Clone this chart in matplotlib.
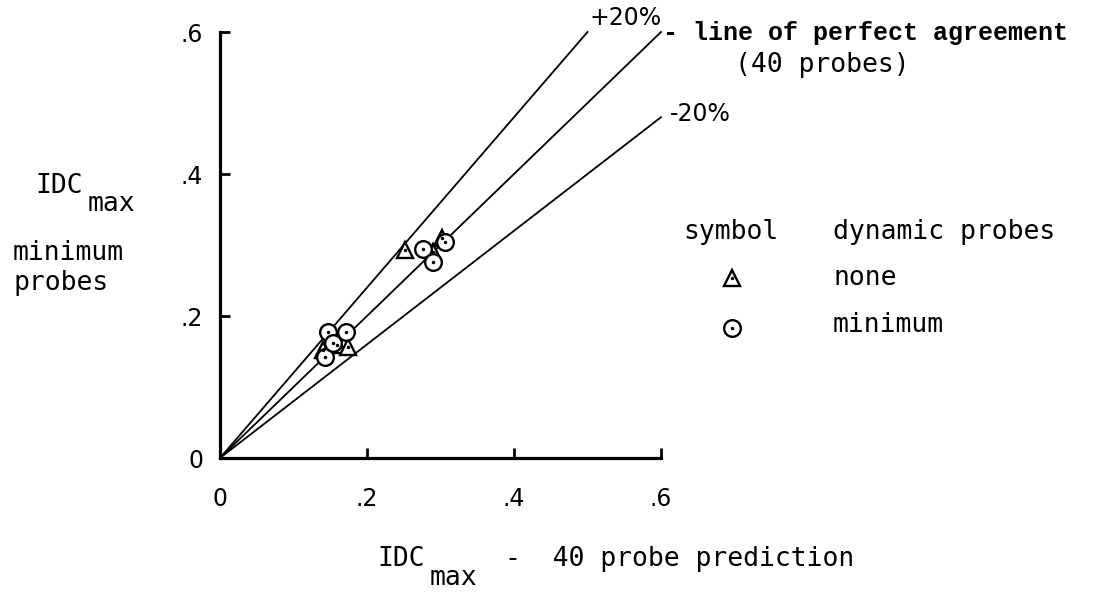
"""
IDC_max from minimum probes vs. 40 probe prediction, with +/-20% bands.
"""
import matplotlib
matplotlib.use('Agg')
import matplotlib.pyplot as plt

# reference lines through the origin
band_labels = ['+20%', 'line of perfect agreement', '-20%']
band_slopes = [1.2, 1.0, 0.8]
band_x_end = [0.5, 0.6, 0.6]

# dynamic probes: none (triangles)
none_x = [0.140, 0.159, 0.174, 0.252, 0.290, 0.302]
none_y = [0.152, 0.159, 0.156, 0.293, 0.290, 0.310]

# dynamic probes: minimum (circles)
min_x = [0.143, 0.147, 0.154, 0.172, 0.276, 0.290, 0.306]
min_y = [0.142, 0.177, 0.162, 0.177, 0.294, 0.276, 0.304]

ticks = [0, 0.2, 0.4, 0.6]
tick_labels = ['0', '.2', '.4', '.6']

W, H = 1103, 592
MONO = 'DejaVu Sans Mono'
COURIER = 'Liberation Mono'
FS = 19


def fx(px):
    return px / W


def fy(py):
    return 1 - py / H


fig = plt.figure(figsize=(W / 100, H / 100), dpi=100)
ax = fig.add_axes([fx(220), fy(458), 441 / W, 426 / H])

for s, xe in zip(band_slopes, band_x_end):
    ax.plot([0, xe], [0, s * xe], color='black', lw=1.3, clip_on=False)

# open symbols with a centre dot
ax.plot(none_x, none_y, ls='none', marker='^', ms=12, mfc='white', mec='black', mew=1.7, zorder=5)
ax.plot(none_x, none_y, ls='none', marker='.', ms=3, color='black', zorder=6)
ax.plot(min_x, min_y, ls='none', marker='o', ms=12, mfc='white', mec='black', mew=1.7, zorder=5)
ax.plot(min_x, min_y, ls='none', marker='.', ms=3, color='black', zorder=6)

ax.set_xlim(0, 0.6)
ax.set_ylim(0, 0.6)
for side in ['top', 'right']:
    ax.spines[side].set_visible(False)
for side in ['left', 'bottom']:
    ax.spines[side].set_linewidth(2.3)

ax.set_xticks(ticks)
ax.set_xticklabels(tick_labels)
ax.set_yticks(ticks)
ax.set_yticklabels(tick_labels)
ax.tick_params(axis='both', direction='in', length=7, width=2, labelsize=17)
ax.tick_params(axis='x', pad=21)
ax.tick_params(axis='y', pad=12)

# line annotations
fig.text(fx(590), fy(18), band_labels[0], fontsize=17, va='center', ha='left')
fig.text(fx(663), fy(33), '- ' + band_labels[1], fontsize=18, family=COURIER,
         fontweight='bold', va='center', ha='left')
fig.text(fx(735), fy(65), '(40 probes)', fontsize=FS, family=MONO, va='center', ha='left')
fig.text(fx(670), fy(114), band_labels[2], fontsize=17, va='center', ha='left')

# y axis label
fig.text(fx(35), fy(186), 'IDC', fontsize=FS, family=MONO, va='center', ha='left')
fig.text(fx(88), fy(204), 'max', fontsize=FS, family=MONO, va='center', ha='left')
fig.text(fx(13), fy(253), 'minimum', fontsize=FS, family=MONO, va='center', ha='left')
fig.text(fx(13), fy(283), 'probes', fontsize=FS, family=MONO, va='center', ha='left')

# x axis label
fig.text(fx(377), fy(559), 'IDC', fontsize=FS, family=MONO, va='center', ha='left')
fig.text(fx(430), fy(578), 'max', fontsize=FS, family=MONO, va='center', ha='left')
fig.text(fx(505), fy(559), '-  40 probe prediction', fontsize=FS, family=MONO,
         va='center', ha='left')

# legend
fig.text(fx(683), fy(232), 'symbol', fontsize=FS, family=MONO, va='center', ha='left')
fig.text(fx(833), fy(232), 'dynamic probes', fontsize=FS, family=MONO, va='center', ha='left')
fig.text(fx(833), fy(278), 'none', fontsize=FS, family=MONO, va='center', ha='left')
fig.text(fx(833), fy(325), 'minimum', fontsize=FS, family=MONO, va='center', ha='left')
for marker, py in [('^', 278), ('o', 328)]:
    ax.plot([fx(732)], [fy(py)], marker=marker, ms=12, mfc='white', mec='black', mew=1.7,
            transform=fig.transFigure, clip_on=False)
    ax.plot([fx(732)], [fy(py)], marker='.', ms=3, color='black',
            transform=fig.transFigure, clip_on=False)

fig.savefig('out.png', dpi=100)
